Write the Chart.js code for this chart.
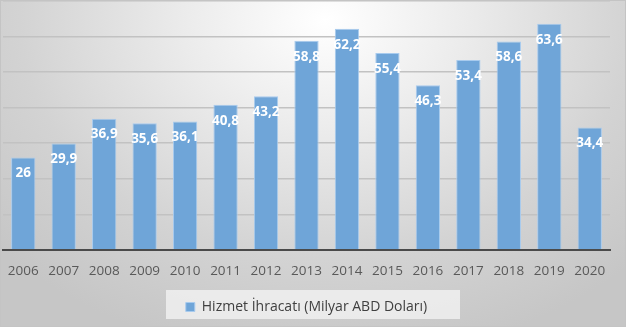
<!DOCTYPE html>
<html>
<head>
<meta charset="utf-8">
<script src="https://cdn.jsdelivr.net/npm/chart.js@4.4.0/dist/chart.umd.min.js"></script>
<style>
  html, body { margin: 0; padding: 0; }
  #wrap {
    width: 626px; height: 327px; box-sizing: border-box;
    border: 1px solid #c4c4c4;
    background: radial-gradient(ellipse 70% 105% at 52% 6%, #ffffff 0%, #ebebeb 33%, #d3d3d3 70%, #c6c6c6 100%);
  }
</style>
</head>
<body>
<div id="wrap"><canvas id="chart" width="624" height="325"></canvas></div>
<script>
// years on the x axis
const years = ['2006', '2007', '2008', '2009', '2010', '2011', '2012', '2013',
               '2014', '2015', '2016', '2017', '2018', '2019', '2020'];
// service exports, billion USD
const exports = [26, 29.9, 36.9, 35.6, 36.1, 40.8, 43.2, 58.8, 62.2, 55.4, 46.3, 53.4, 58.6, 63.6, 34.4];
const seriesName = 'Hizmet İhracatı (Milyar ABD Doları)';

// labels inside the top of each bar, turkish decimal comma
const barLabels = {
    id: 'barLabels',
    afterDatasetsDraw(chart) {
        const ctx = chart.ctx;
        const meta = chart.getDatasetMeta(0);
        ctx.save();
        ctx.font = 'bold 13.5px "Open Sans"';
        ctx.fillStyle = '#ffffff';
        ctx.textAlign = 'center';
        ctx.textBaseline = 'middle';
        meta.data.forEach((bar, i) => {
            const txt = String(exports[i]).replace('.', ',');
            ctx.fillText(txt, bar.x, bar.y + 16);
        });
        ctx.restore();
    }
};

// light box behind the legend
const legendBox = {
    id: 'legendBox',
    beforeDraw(chart) {
        const ctx = chart.ctx;
        ctx.save();
        ctx.fillStyle = 'rgba(240,240,240,0.85)';
        ctx.fillRect(165, 289, 294, 29);
        ctx.restore();
    }
};

const ctx = document.getElementById('chart').getContext('2d');
new Chart(ctx, {
    type: 'bar',
    data: {
        labels: years,
        datasets: [{
            label: seriesName,
            data: exports,
            backgroundColor: '#6fa5d8',
            borderColor: '#a8cbee',
            borderWidth: 1,
            barPercentage: 0.6,
            categoryPercentage: 1
        }]
    },
    options: {
        responsive: false,
        animation: false,
        layout: { padding: { left: 2, right: 15, top: 0, bottom: 2 } },
        scales: {
            x: {
                grid: { display: false },
                border: { color: '#4a4a4a', width: 2 },
                ticks: { color: '#595959', font: { family: 'Open Sans', size: 13.5 }, padding: 5 }
            },
            y: {
                min: 0,
                max: 70,
                ticks: { display: false, stepSize: 10 },
                border: { display: false },
                grid: { color: '#c2c2c2', lineWidth: 1.5, drawTicks: false }
            }
        },
        plugins: {
            legend: {
                position: 'bottom',
                labels: {
                    boxWidth: 9, boxHeight: 9,
                    color: '#404040',
                    font: { family: 'Open Sans', size: 14 },
                    padding: 16
                }
            },
            tooltip: { enabled: false }
        }
    },
    plugins: [barLabels, legendBox]
});
</script>
</body>
</html>
